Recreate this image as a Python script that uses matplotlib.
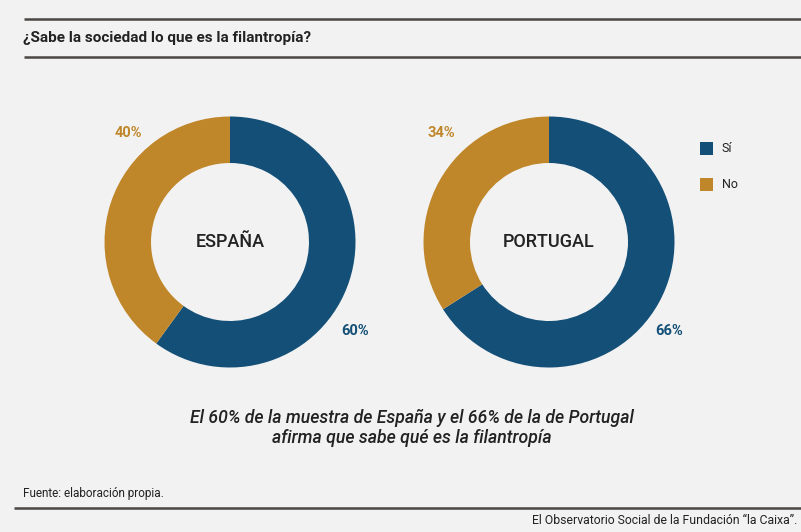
import matplotlib.pyplot as plt
from matplotlib.patches import Rectangle

plt.rcParams['font.family'] = ['Roboto', 'DejaVu Sans']

countries = ["ESPAÑA", "PORTUGAL"]
si_values = [60, 66]
no_values = [40, 34]
legend_labels = ["Sí", "No"]
title = "¿Sabe la sociedad lo que es la filantropía?"
caption = ("El 60% de la muestra de España y el 66% de la de Portugal\n"
           "afirma que sabe qué es la filantropía")
source = "Fuente: elaboración propia."
credit = "El Observatorio Social de la Fundación \u201cla Caixa\u201d."

blue = "#134f77"
gold = "#c0872a"
dark = "#222222"
bg = "#f2f2f2"
W, H = 801, 532

fig = plt.figure(figsize=(W / 100, H / 100), dpi=100, facecolor=bg)
ax = fig.add_axes([0, 0, 1, 1])


def y(py):
    return H - py


# header / footer rules
for x0, py in [(24, 19), (24, 57), (14, 508)]:
    ax.plot([x0, W], [y(py), y(py)], color="#4a4744", lw=1.8, solid_capstyle='butt')

ax.text(23, y(38), title, fontsize=11, fontweight='bold', color=dark, va='center', ha='left')

centers = [(230, 242), (549, 242)]
no_offsets = [(-102, -109), (-108, -109)]
si_offsets = [(125, 89), (120, 89)]
for name, si, no, (cx, cy), (nx, ny), (sx, sy) in zip(countries, si_values, no_values,
                                                      centers, no_offsets, si_offsets):
    ax.pie([si, no], colors=[blue, gold], startangle=90, counterclock=False,
           center=(cx, y(cy)), radius=125.5, frame=True,
           wedgeprops=dict(width=46.5, linewidth=0))
    ax.text(cx, y(cy), name, fontsize=13, fontweight='medium', color=dark,
            ha='center', va='center')
    ax.text(cx + nx, y(cy + ny), f"{no}%", fontsize=10.5, fontweight='bold', color=gold,
            ha='center', va='center')
    ax.text(cx + sx, y(cy + sy), f"{si}%", fontsize=10.5, fontweight='bold', color=blue,
            ha='center', va='center')

ax.set_xlim(0, W)
ax.set_ylim(0, H)
ax.set_aspect('equal')
ax.axis('off')

# legend
for lab, col, py in zip(legend_labels, [blue, gold], [148, 184]):
    ax.add_patch(Rectangle((700, y(py) - 6.5), 13, 13, color=col, lw=0))
    ax.text(722, y(py), lab, fontsize=9, color=dark, va='center', ha='left')

ax.text(412, y(428), caption, fontsize=12.7, fontstyle='italic', fontweight='medium',
        color=dark, ha='center', va='center', linespacing=1.2)

ax.text(23, y(494), source, fontsize=8.5, color=dark, va='center', ha='left')
ax.text(797, y(520), credit, fontsize=8.8, color=dark, va='center', ha='right')

fig.savefig("out.png", dpi=100, facecolor=bg)
